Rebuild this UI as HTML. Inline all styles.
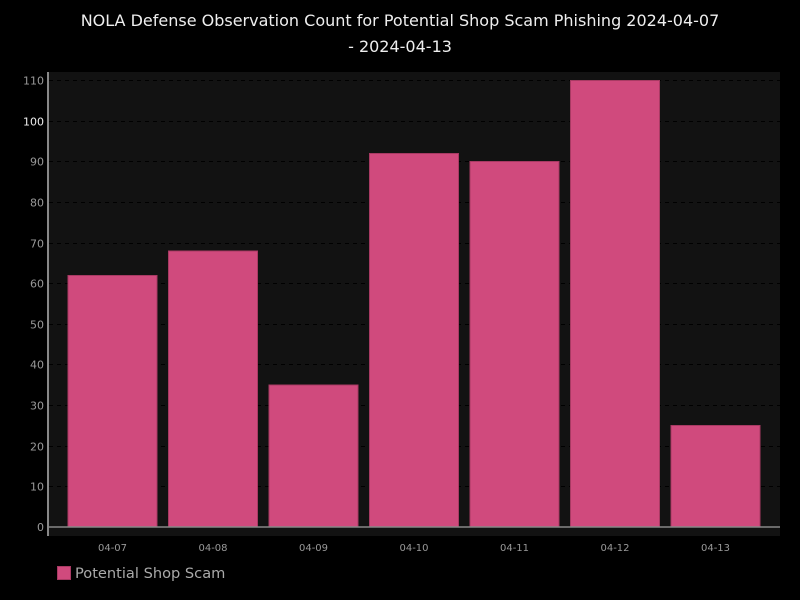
<!DOCTYPE html>
<html><head><meta charset="utf-8"><style>
html,body{margin:0;padding:0;background:#000;}
svg{display:block;font-family:"DejaVu Sans","Liberation Sans",sans-serif;}
</style></head><body>
<svg width="800" height="600" viewBox="0 0 800 600" xmlns="http://www.w3.org/2000/svg">
<rect x="0" y="0" width="800" height="600" fill="#000"/>
<text x="400" y="26" fill="#eeeeee" font-size="16" text-anchor="middle">NOLA Defense Observation Count for Potential Shop Scam Phishing 2024-04-07</text>
<text x="400" y="52" fill="#eeeeee" font-size="16" text-anchor="middle">- 2024-04-13</text>
<rect x="48" y="72" width="732" height="464" fill="#121212"/>
<g stroke="#000" stroke-width="1" stroke-dasharray="4,4">
<line x1="49" x2="780" y1="80.5" y2="80.5"/>
<line x1="49" x2="780" y1="121.5" y2="121.5"/>
<line x1="49" x2="780" y1="161.5" y2="161.5"/>
<line x1="49" x2="780" y1="202.5" y2="202.5"/>
<line x1="49" x2="780" y1="243.5" y2="243.5"/>
<line x1="49" x2="780" y1="283.5" y2="283.5"/>
<line x1="49" x2="780" y1="324.5" y2="324.5"/>
<line x1="49" x2="780" y1="364.5" y2="364.5"/>
<line x1="49" x2="780" y1="405.5" y2="405.5"/>
<line x1="49" x2="780" y1="446.5" y2="446.5"/>
<line x1="49" x2="780" y1="486.5" y2="486.5"/>
</g>
<g fill="#d04a7d" stroke="#a83a63" stroke-width="1">
<rect x="68" y="275.5" width="89" height="251.5"/>
<rect x="168.5" y="251" width="89" height="276"/>
<rect x="269" y="385" width="89" height="142"/>
<rect x="369.5" y="153.5" width="89" height="373.5"/>
<rect x="470" y="161.5" width="89" height="365.5"/>
<rect x="570.5" y="80.5" width="89" height="446.5"/>
<rect x="671" y="425.5" width="89" height="101.5"/>
</g>
<line x1="48" x2="780" y1="527" y2="527" stroke="#888" stroke-width="1.5"/>
<line x1="48" x2="48" y1="72" y2="536" stroke="#888" stroke-width="2"/>
<g font-size="11" fill="#999" text-anchor="end">
<text x="44" y="84.5">110</text>
<text x="44" y="125.5" fill="#eee">100</text>
<text x="44" y="165.5">90</text>
<text x="44" y="206.5">80</text>
<text x="44" y="247.5">70</text>
<text x="44" y="287.5">60</text>
<text x="44" y="328.5">50</text>
<text x="44" y="368.5">40</text>
<text x="44" y="409.5">30</text>
<text x="44" y="450.5">20</text>
<text x="44" y="490.5">10</text>
<text x="44" y="531">0</text>
</g>
<g font-size="10" fill="#999" text-anchor="middle">
<text x="112.5" y="551">04-07</text>
<text x="213" y="551">04-08</text>
<text x="313.5" y="551">04-09</text>
<text x="414" y="551">04-10</text>
<text x="514.5" y="551">04-11</text>
<text x="615" y="551">04-12</text>
<text x="715.5" y="551">04-13</text>
</g>
<rect x="57.5" y="566.5" width="13" height="13" fill="#d04a7d" stroke="#a83a63" stroke-width="1"/>
<text x="75" y="578" font-size="14.6" fill="#aaa">Potential Shop Scam</text>
</svg>
</body></html>
